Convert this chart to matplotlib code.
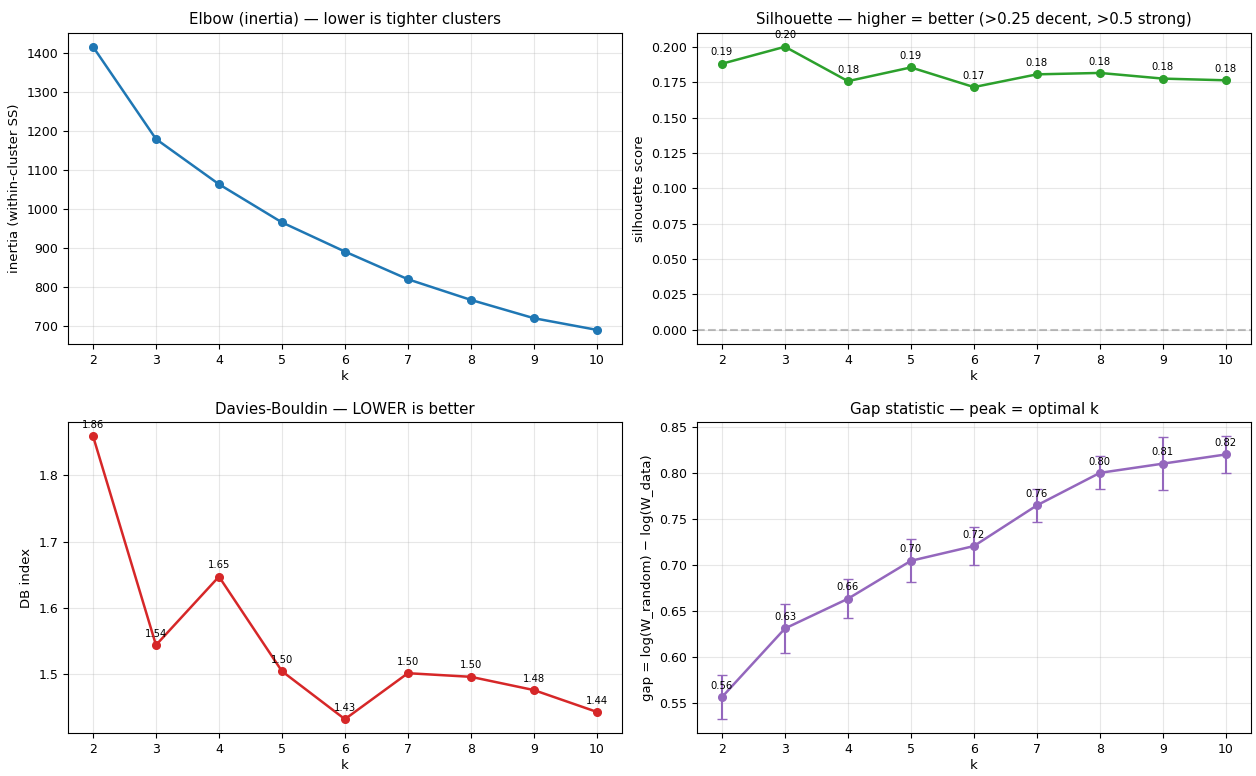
import matplotlib
matplotlib.use("Agg")
import matplotlib.pyplot as plt

ks = [2, 3, 4, 5, 6, 7, 8, 9, 10]
inertia = [1417, 1180, 1064, 966, 891, 820, 767, 720, 690]
silhouette = [0.188, 0.200, 0.1757, 0.1854, 0.1715, 0.1805, 0.1815, 0.1775, 0.1763]
db_index = [1.8595, 1.5435, 1.647, 1.504, 1.4315, 1.501, 1.4955, 1.4755, 1.4425]
gap = [0.5565, 0.631, 0.6633, 0.7045, 0.7205, 0.7647, 0.800, 0.810, 0.820]
gap_err = [0.024, 0.027, 0.021, 0.0235, 0.021, 0.018, 0.018, 0.029, 0.020]

plt.rcParams.update({
    "axes.titlesize": 10.8,
    "axes.labelsize": 9.5,
    "xtick.labelsize": 9,
    "ytick.labelsize": 9,
})

fig, axes = plt.subplots(2, 2, figsize=(12.56, 7.76), dpi=100)
plt.subplots_adjust(left=0.054, right=0.996, top=0.958, bottom=0.055,
                    wspace=0.135, hspace=0.25)

ann_kw = dict(textcoords="offset points", xytext=(0, 6), ha="center", fontsize=7.2)

# elbow
ax = axes[0, 0]
ax.plot(ks, inertia, "o-", color="tab:blue", lw=1.8, ms=5.5)
ax.set_title("Elbow (inertia) — lower is tighter clusters")
ax.set_xlabel("k", labelpad=2)
ax.set_ylabel("inertia (within-cluster SS)")
ax.set_xticks(ks)
ax.grid(alpha=0.3)

# silhouette
ax = axes[0, 1]
ax.plot(ks, silhouette, "o-", color="tab:green", lw=1.8, ms=5.5)
for k, s in zip(ks, silhouette):
    ax.annotate(f"{s:.2f}", (k, s), **ann_kw)
ax.axhline(0, color="grey", ls="--", alpha=0.5)
ax.set_title("Silhouette — higher = better (>0.25 decent, >0.5 strong)")
ax.set_xlabel("k", labelpad=2)
ax.set_ylabel("silhouette score")
ax.set_xticks(ks)
ax.grid(alpha=0.3)

# davies-bouldin
ax = axes[1, 0]
ax.plot(ks, db_index, "o-", color="tab:red", lw=1.8, ms=5.5)
for k, d in zip(ks, db_index):
    ax.annotate(f"{d:.2f}", (k, d), **ann_kw)
ax.set_title("Davies-Bouldin — LOWER is better")
ax.set_xlabel("k", labelpad=2)
ax.set_ylabel("DB index")
ax.set_xticks(ks)
ax.grid(alpha=0.3)

# gap statistic
ax = axes[1, 1]
ax.errorbar(ks, gap, yerr=gap_err, fmt="o-", color="tab:purple", lw=1.8, ms=5.5,
            capsize=3.5, elinewidth=1.5)
for k, g in zip(ks, gap):
    ax.annotate(f"{g:.2f}", (k, g), **ann_kw)
ax.set_title("Gap statistic — peak = optimal k")
ax.set_xlabel("k", labelpad=2)
ax.set_ylabel("gap = log(W_random) − log(W_data)")
ax.set_xticks(ks)
ax.grid(alpha=0.3)

plt.savefig("out.png", dpi=100)
